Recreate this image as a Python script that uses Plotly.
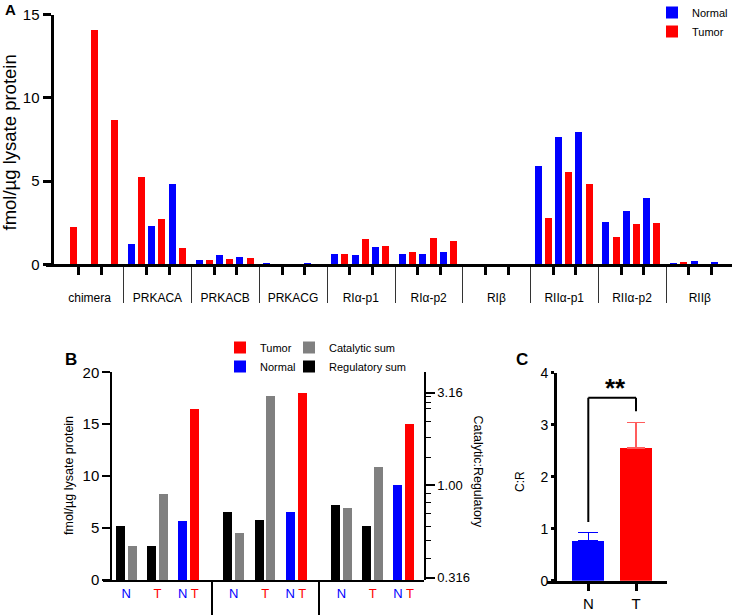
import plotly.graph_objects as go

W, H = 732, 615
FONT = "Liberation Sans, Arial, Helvetica, sans-serif"
BLUE = "#0000ff"
RED = "#ff0000"
RED_ERR = "#ff5c5c"
GRAY = "#808080"
BLACK = "#000000"

# ---------------- data: panel A ----------------
categories_A = ["chimera", "PRKACA", "PRKACB", "PRKACG", "RIα-p1", "RIα-p2",
                "RIβ", "RIIα-p1", "RIIα-p2", "RIIβ"]
normal_p1 = [0, 1.23, 0.30, 0.07, 0.66, 0.64, 0, 5.94, 2.54, 0.05]
tumor_p1 = [2.27, 5.26, 0.26, 0, 0.66, 0.76, 0, 2.80, 1.65, 0.14]
normal_p2 = [0, 2.33, 0.58, 0, 0.58, 0.64, 0, 7.65, 3.24, 0.24]
tumor_p2 = [14.1, 2.74, 0.36, 0, 1.55, 1.59, 0, 5.58, 2.44, 0]
normal_p3 = [0, 4.85, 0.46, 0.12, 1.03, 0.74, 0, 7.98, 4.02, 0.14]
tumor_p3 = [8.70, 0.98, 0.42, 0, 1.10, 1.41, 0, 4.87, 2.50, 0]
yticks_A = [0, 5, 10, 15]

# ---------------- data: panel B ----------------
patients_B = ["P1", "P2", "P3"]
regulatory_N = [5.13, 6.49, 7.20]
catalytic_N = [3.20, 4.50, 6.90]
regulatory_T = [3.25, 5.75, 5.13]
catalytic_T = [8.26, 17.70, 10.86]
ratio_N = [0.64, 0.71, 0.99]
ratio_T = [2.57, 3.12, 2.13]
yticks_B = [0, 5, 10, 15, 20]
ratio_ticks = [0.316, 1.0, 3.16]
ratio_ticktext = ["0.316", "1.00", "3.16"]
ratio_minor = [0.4, 0.5, 0.6, 0.7, 0.8, 0.9, 1.4, 1.8, 2.2, 2.6, 2.8, 3.0]

# ---------------- data: panel C ----------------
groups_C = ["N", "T"]
mean_C = [0.76, 2.55]
sem_C = [0.17, 0.49]
yticks_C = [0, 1, 2, 3, 4]


def px(p):
    return p / W


def py(p):
    return 1 - p / H


fig = go.Figure()

# ---------------- panel A ----------------
catA_px = 67.8
slotA = [(7.5 + 10.2 * j) / catA_px for j in range(6)]
widthA = 7.0 / catA_px
seriesA = [
    ("Normal", normal_p1, BLUE, 0, True, 1),
    ("Tumor", tumor_p1, RED, 1, True, 2),
    ("Normal", normal_p2, BLUE, 2, False, 1),
    ("Tumor", tumor_p2, RED, 3, False, 2),
    ("Normal", normal_p3, BLUE, 4, False, 1),
    ("Tumor", tumor_p3, RED, 5, False, 2),
]
for name, vals, col, slot, show, rank in seriesA:
    fig.add_trace(go.Bar(
        x=[i + slotA[slot] for i in range(len(categories_A))], y=vals,
        width=widthA, marker=dict(color=col, line=dict(width=0)),
        name=name, showlegend=show, legendrank=rank,
        legend="legend", xaxis="x", yaxis="y"))

# ---------------- panel B ----------------
grpB_px = 107.6
offB = [16.3, 28.0, 47.7, 59.3, 78.7, 90.7]
offB = [o / grpB_px for o in offB]
widthB = 9.0 / grpB_px
nB = len(patients_B)
fig.add_trace(go.Bar(x=[g + offB[0] for g in range(nB)], y=regulatory_N, width=widthB,
                     marker=dict(color=BLACK, line=dict(width=0)), name="Regulatory sum",
                     legend="legend3", legendrank=2, xaxis="x2", yaxis="y2"))
fig.add_trace(go.Bar(x=[g + offB[1] for g in range(nB)], y=catalytic_N, width=widthB,
                     marker=dict(color=GRAY, line=dict(width=0)), name="Catalytic sum",
                     legend="legend3", legendrank=1, xaxis="x2", yaxis="y2"))
fig.add_trace(go.Bar(x=[g + offB[2] for g in range(nB)], y=regulatory_T, width=widthB,
                     marker=dict(color=BLACK, line=dict(width=0)), showlegend=False,
                     xaxis="x2", yaxis="y2"))
fig.add_trace(go.Bar(x=[g + offB[3] for g in range(nB)], y=catalytic_T, width=widthB,
                     marker=dict(color=GRAY, line=dict(width=0)), showlegend=False,
                     xaxis="x2", yaxis="y2"))
fig.add_trace(go.Bar(x=[g + offB[4] for g in range(nB)], y=ratio_N, width=widthB,
                     marker=dict(color=BLUE, line=dict(width=0)), name="Normal",
                     legend="legend2", legendrank=2, xaxis="x6", yaxis="y3"))
fig.add_trace(go.Bar(x=[g + offB[5] for g in range(nB)], y=ratio_T, width=widthB,
                     marker=dict(color=RED, line=dict(width=0)), name="Tumor",
                     legend="legend2", legendrank=1, xaxis="x6", yaxis="y3"))

labB_vals, labB_text = [], []
nspan = '<span style="color:#0000ff">N</span>'
tspan = '<span style="color:#ff0000">T</span>'
for g in range(nB):
    labB_vals += [g + (offB[0] + offB[1]) / 2, g + (offB[2] + offB[3]) / 2, g + offB[4], g + offB[5]]
    labB_text += [nspan, tspan, nspan, tspan]

# ---------------- panel C ----------------
fig.add_trace(go.Bar(x=[groups_C[0]], y=[mean_C[0]], width=0.67,
                     marker=dict(color=BLUE, line=dict(width=0)), showlegend=False,
                     error_y=dict(type="data", array=[sem_C[0]], arrayminus=[0], symmetric=False,
                                  color=BLUE, thickness=1.5, width=10),
                     xaxis="x3", yaxis="y4"))
fig.add_trace(go.Bar(x=[groups_C[1]], y=[mean_C[1]], width=0.67,
                     marker=dict(color=RED, line=dict(width=0)), showlegend=False,
                     error_y=dict(type="data", array=[sem_C[1]], arrayminus=[0], symmetric=False,
                                  color=RED_ERR, thickness=1.5, width=9),
                     xaxis="x3", yaxis="y4"))

br_start = mean_C[0] + sem_C[0] + 0.2
br_level = 3.52
br_end = mean_C[1] + sem_C[1] + 0.22
line_style = dict(color=BLACK, width=2)
shapes = [
    dict(type="line", xref="x3", yref="y4", x0=groups_C[0], x1=groups_C[0], y0=br_start, y1=br_level, line=line_style),
    dict(type="line", xref="x3", yref="y4", x0=groups_C[0], x1=groups_C[1], y0=br_level, y1=br_level, line=line_style),
    dict(type="line", xref="x3", yref="y4", x0=groups_C[1], x1=groups_C[1], y0=br_level, y1=br_end, line=line_style),
]

# ---------------- axes ----------------
common = dict(showgrid=False, zeroline=False, linecolor=BLACK, tickcolor=BLACK,
              tickfont=dict(family=FONT, color=BLACK))

nA = len(categories_A)
xA_range = [(46 - 56) / catA_px, (732 - 56) / catA_px]
xB_range = [(103 - 104) / grpB_px, (424 - 104) / grpB_px]

tickA_vals, tickA_text = [], []
for i, c in enumerate(categories_A):
    tickA_vals += [i + 1 / 3, i + 2 / 3]
    tickA_text += [c, ""]

layout = dict(
    width=W, height=H, margin=dict(l=0, r=0, t=0, b=0, autoexpand=False),
    paper_bgcolor="white", plot_bgcolor="rgba(0,0,0,0)",
    font=dict(family=FONT, color=BLACK),
    barmode="overlay", bargap=0,
    shapes=shapes,
    xaxis=dict(common, domain=[px(46), 1], range=xA_range, anchor="y",
               tickmode="array", tickvals=tickA_vals, ticktext=tickA_text, tickangle=0,
               ticklabelshift=int(round(catA_px / 6)), ticklabelstandoff=12,
               ticks="outside", ticklen=8, tickwidth=3,
               showline=True, linewidth=3, tickfont=dict(family=FONT, size=12, color=BLACK),
               minor=dict(tickmode="array", tickvals=list(range(1, nA)),
                          ticks="outside", ticklen=36, tickwidth=1, tickcolor="#333333",
                          showgrid=False)),
    yaxis=dict(common, domain=[py(264.3), py(14.7)], anchor="free", position=px(51.5),
               range=[0, 15], tickmode="array", tickvals=yticks_A, ticks="outside",
               ticklen=8, tickwidth=3, showline=True, linewidth=3,
               tickfont=dict(family=FONT, size=15, color=BLACK)),
    xaxis2=dict(common, domain=[px(103), px(424)], range=xB_range, anchor="y2",
                tickmode="array", tickvals=labB_vals, ticktext=labB_text, tickangle=0,
                ticks="outside", ticklen=0, tickcolor="rgba(0,0,0,0)",
                showline=True, linewidth=2, tickfont=dict(family=FONT, size=13),
                minor=dict(tickmode="array", tickvals=[1, 2], ticks="outside", ticklen=36,
                           tickwidth=1.5, tickcolor=BLACK, showgrid=False)),
    yaxis2=dict(common, domain=[py(580), py(372.3)], anchor="free", position=px(111),
                range=[0, 20], tickmode="array", tickvals=yticks_B, ticks="outside",
                ticklen=8, tickwidth=1.5, showline=True, linewidth=1.5,
                tickfont=dict(family=FONT, size=15, color=BLACK)),
    xaxis6=dict(common, domain=[px(103), px(424)], range=xB_range, anchor="y3",
                visible=False),
    yaxis3=dict(common, domain=[py(580), py(372.3)], side="right", anchor="x6", type="log",
                range=[-0.5135, 0.609], tickmode="array", tickvals=ratio_ticks,
                ticktext=ratio_ticktext, ticks="outside", ticklen=9, tickwidth=1.5,
                showline=True, linewidth=1.5, tickfont=dict(family=FONT, size=13, color=BLACK),
                minor=dict(tickmode="array", tickvals=ratio_minor,
                           ticks="outside", ticklen=5, tickwidth=1, tickcolor=BLACK, showgrid=False)),
    xaxis3=dict(common, domain=[px(547), px(667)], type="category", range=[-0.866, 1.65],
                anchor="y4", ticks="outside", ticklen=7, tickwidth=3, showline=True, linewidth=3,
                tickfont=dict(family=FONT, size=15, color=BLACK)),
    yaxis4=dict(common, domain=[py(580.7), py(372.7)], anchor="free", position=px(555),
                range=[0, 4], tickmode="array", tickvals=yticks_C, ticks="outside",
                ticklen=3, tickwidth=3, showline=True, linewidth=3,
                tickfont=dict(family=FONT, size=14, color=BLACK)),
    legend=dict(x=px(652), y=py(-2), xanchor="left", yanchor="top", bgcolor="rgba(0,0,0,0)",
                font=dict(family=FONT, size=11), itemwidth=30, traceorder="normal"),
    legend2=dict(x=px(220), y=py(333), xanchor="left", yanchor="top", bgcolor="rgba(0,0,0,0)",
                 font=dict(family=FONT, size=11), itemwidth=30),
    legend3=dict(x=px(289), y=py(333), xanchor="left", yanchor="top", bgcolor="rgba(0,0,0,0)",
                 font=dict(family=FONT, size=11), itemwidth=30),
)

ann_common = dict(xref="paper", yref="paper", showarrow=False, xanchor="center", yanchor="middle")
ann = [
    dict(ann_common, text="<b>A</b>", x=px(10), y=py(9), font=dict(size=15)),
    dict(ann_common, text="<b>B</b>", x=px(70.5), y=py(359), font=dict(size=17)),
    dict(ann_common, text="<b>C</b>", x=px(522), y=py(359), font=dict(size=17)),
    dict(ann_common, text="fmol/µg lysate protein", x=px(9), y=py(142.5),
         textangle=-90, font=dict(size=18.5)),
    dict(ann_common, text="fmol/µg lysate protein", x=px(69), y=py(476),
         textangle=-90, font=dict(size=12.5)),
    dict(ann_common, text="Catalytic:Regulatory", x=px(477.5), y=py(472),
         textangle=90, font=dict(size=12.5)),
    dict(ann_common, text="C:R", x=px(520), y=py(482),
         textangle=-90, font=dict(size=12)),
    dict(ann_common, text="<b>**</b>", x=px(615.5), y=py(388), font=dict(size=26)),
]
layout["annotations"] = ann

fig.update_layout(**layout)
# the default HTML page adds an 8px body margin; remove it so the figure fills the window
fig.write_html("out.html", config={"displayModeBar": False},
               post_script="document.body.style.margin='0px';")
